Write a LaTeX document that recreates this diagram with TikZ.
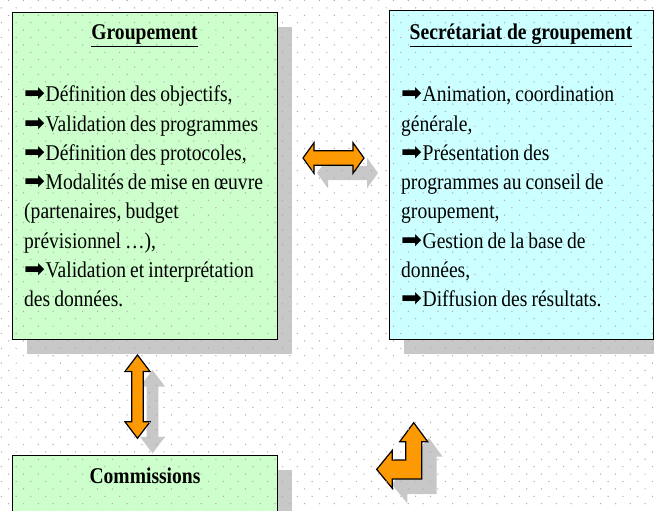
\documentclass[tikz,border=0pt]{standalone}
\usepackage{fontspec}
\setmainfont[FakeStretch=0.87]{Liberation Serif}
\newfontfamily\arrowfont{DejaVu Sans}
\definecolor{boxgreen}{HTML}{CCFFCC}
\definecolor{boxcyan}{HTML}{CCFFFF}
\definecolor{arroworange}{HTML}{FF9900}
\definecolor{shadowgray}{HTML}{C8C8C8}
\definecolor{dotgray}{HTML}{ABABAB}
\newcommand\bul{{\arrowfont\fontsize{25}{25}\selectfont ➡}\hspace{0.5pt}}
\newcommand\tightsp{\spaceskip=0.18em plus 0.05em\relax}
\newcommand\harrowpath{(303,158) -- (314,142.7) -- (314,150.8) -- (353,150.8) -- (353,142.7) -- (364,158) -- (353,173.3) -- (353,165.2) -- (314,165.2) -- (314,173.3) -- cycle}
\newcommand\varrowpath{(137.5,355) -- (150,371.5) -- (143.3,371.5) -- (143.3,421.8) -- (150,421.8) -- (137.5,438.3) -- (125,421.8) -- (131.7,421.8) -- (131.7,371.5) -- (125,371.5) -- cycle}
\newcommand\barrowpath{(413.7,422.7) -- (427.7,441.7) -- (421.7,441.7) -- (421.7,479) -- (392.3,479) -- (392.3,488.3) -- (376.7,469.4) -- (392.3,450.3) -- (392.3,460) -- (405.7,460) -- (405.7,441.7) -- (399.7,441.7) -- cycle}
\begin{document}
\begin{tikzpicture}[x=1pt,y=-1pt,
  panel/.style={draw=black,line width=1.4pt,inner sep=0,anchor=north west},
  shadowfill/.style={fill=shadowgray,draw=none},
  blockarrow/.style={fill=arroworange,draw=black,line width=1.2pt,line join=miter},
  txt/.style={inner sep=0,anchor=base west,font=\fontsize{22.5}{29}\selectfont\tightsp},
  ttl/.style={inner sep=0,anchor=base,font=\fontsize{22.5}{29}\selectfont\bfseries}]
\useasboundingbox (0,0) rectangle (654,511);
\clip (0,0) rectangle (654,511);
\fill[white] (0,0) rectangle (654,511);
% shadows
\fill[shadowfill] (27,27) rectangle (292,354);
\fill[shadowfill] (404,25) rectangle (668,354);
\fill[shadowfill] (27,470) rectangle (292,530);
\fill[shadowfill,shift={(14,15)}] \harrowpath;
\fill[shadowfill,shift={(15,15)}] \varrowpath;
\fill[shadowfill,shift={(15,15)}] \barrowpath;
% boxes
\node[panel,fill=boxgreen,minimum width=265pt,minimum height=327pt] (grp) at (12,12) {};
\node[panel,fill=boxcyan,minimum width=264pt,minimum height=329pt] (sec) at (389,10) {};
\node[panel,fill=boxgreen,minimum width=265pt,minimum height=100pt] (com) at (12,455) {};
% block arrows
\draw[blockarrow] \harrowpath;
\draw[blockarrow] \varrowpath;
\draw[blockarrow] \barrowpath;
% dotted grid
\foreach \j in {-3,...,65}{
  \pgfmathsetmacro\off{isodd(\j)*7.4}
  \foreach \i in {-21,...,24}{
    \fill[dotgray] ({297.3+14.8*\i+\off},{22.7+7.4*\j}) circle[radius=0.7pt];
  }
}
% titles
\node[ttl] (grpt) at (144.5,40) {\underline{Groupement}};
\node[ttl] (sect) at (521,40) {\underline{Secrétariat de groupement}};
\node[ttl] (comt) at (145,483.5) {Commissions};
% texts
\foreach \t [count=\k from 0] in {{\bul Définition des objectifs,},{\bul Validation des programmes},{\bul Définition des protocoles,},{\bul Modalités de mise en œuvre},{(partenaires, budget},{prévisionnel …),},{\bul Validation et interprétation},{des données.}}
  \node[txt] (g\k) at (24,{102+29.2*\k}) {\t};
\foreach \t [count=\k from 0] in {{\bul Animation, coordination},{générale,},{\bul Présentation des},{programmes au conseil de},{groupement,},{\bul Gestion de la base de},{données,},{\bul Diffusion des résultats.}}
  \node[txt] (s\k) at (401,{102+29.2*\k}) {\t};
\end{tikzpicture}
\end{document}
